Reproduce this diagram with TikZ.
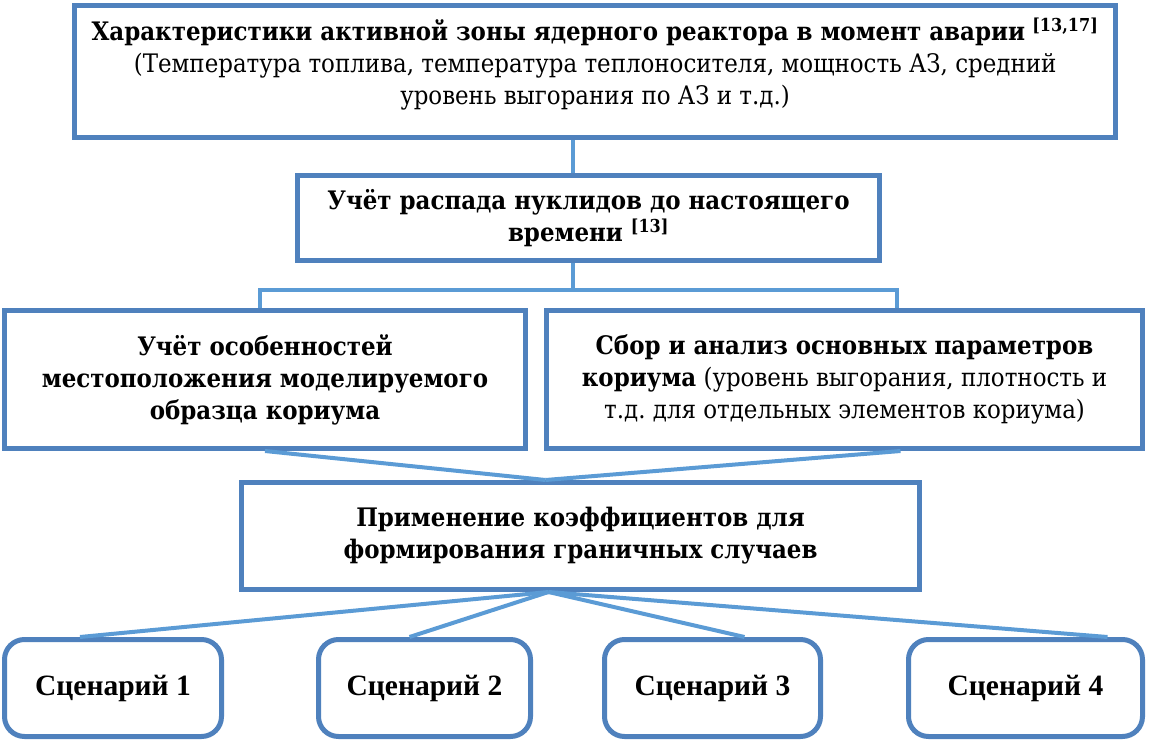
\documentclass[tikz,border=0pt]{standalone}
\usepackage{fontspec}
\setmainfont{DejaVu Serif Condensed}
\newfontfamily\scenfont{Liberation Serif}
\usetikzlibrary{positioning}
\usetikzlibrary{calc}
\definecolor{boxblue}{HTML}{4F81BD}
\definecolor{lineblue}{HTML}{5B9BD5}
\frenchspacing
\tikzset{
	block/.style={draw=boxblue, line width=5pt, fill=white, align=center, inner sep=0pt,
		font=\fontsize{25.5pt}{32pt}\selectfont},
	scen/.style={block, rounded corners=20pt, font=\scenfont\bfseries\fontsize{29.5pt}{32pt}\selectfont},
	link/.style={draw=lineblue, line width=4pt}
}

\begin{document}
\begin{tikzpicture}[x=1pt,y=-1pt]
	\useasboundingbox (0,0) rectangle (1149,741);

	% Boxes
	\node (top) [block, minimum width=1041pt, minimum height=132pt] at (595,71.5)
		{\textbf{Характеристики активной зоны ядерного реактора в момент аварии} \textbf{\textsuperscript{[13,17]}}\\
		(Температура топлива, температура теплоносителя, мощность АЗ, средний\\
		уровень выгорания по АЗ и т.д.)\\[-12pt]\mbox{}};
	\node (dec) [block, minimum width=582pt, minimum height=85pt] at (588.5,218)
		{\textbf{Учёт распада нуклидов до настоящего}\\ \textbf{времени \textsuperscript{[13]}}};
	\node (loc) [block, minimum width=521pt, minimum height=138pt] at (265,379.5)
		{\bfseries Учёт особенностей\\ \bfseries местоположения моделируемого\\ \bfseries образца кориума};
	\node (par) [block, minimum width=596pt, minimum height=138pt] at (844.5,379.5)
		{\textbf{Сбор и анализ основных параметров}\\
		\textbf{кориума} (уровень выгорания, плотность и\\
		т.д. для отдельных элементов кориума)};
	\node (coef) [block, minimum width=678pt, minimum height=107pt] at (580.5,536)
		{\bfseries Применение коэффициентов для\\ \bfseries формирования граничных случаев};

	% Scenarios
	\node (s1) [scen, minimum width=217pt, minimum height=97pt] at (113,688) {Сценарий 1};
	\node (s2) [scen, minimum width=212pt, minimum height=97pt] at (424.5,688) {Сценарий 2};
	\node (s3) [scen, minimum width=216pt, minimum height=97pt] at (712.5,688) {Сценарий 3};
	\node (s4) [scen, minimum width=234pt, minimum height=97pt] at (1025.5,688) {Сценарий 4};

	% Connectors
	\coordinate (j) at (573,290);
	\coordinate (jl) at (260,290);
	\coordinate (jr) at (897,290);
	\coordinate (cn) at ($(coef.north)+(-35,0)$);
	\coordinate (cs) at ($(coef.south)+(-32,0)$);

	\path[link] (top.south -| j) -- (dec.north -| j);
	\path[link] (dec.south -| j) -- (j);
	\path[link] (loc.north -| jl) -- (jl) -- (jr) -- (par.north -| jr);
	\path[link] (loc.south) -- (cn);
	\path[link] ($(par.south)+(56,0)$) -- (cn);
	\path[link] (cs) -- ($(s1.north)+(-33,0)$);
	\path[link] (cs) -- ($(s2.north)+(-15,0)$);
	\path[link] (cs) -- ($(s3.north)+(32,0)$);
	\path[link] (cs) -- ($(s4.north)+(82,0)$);

\end{tikzpicture}
\end{document}
